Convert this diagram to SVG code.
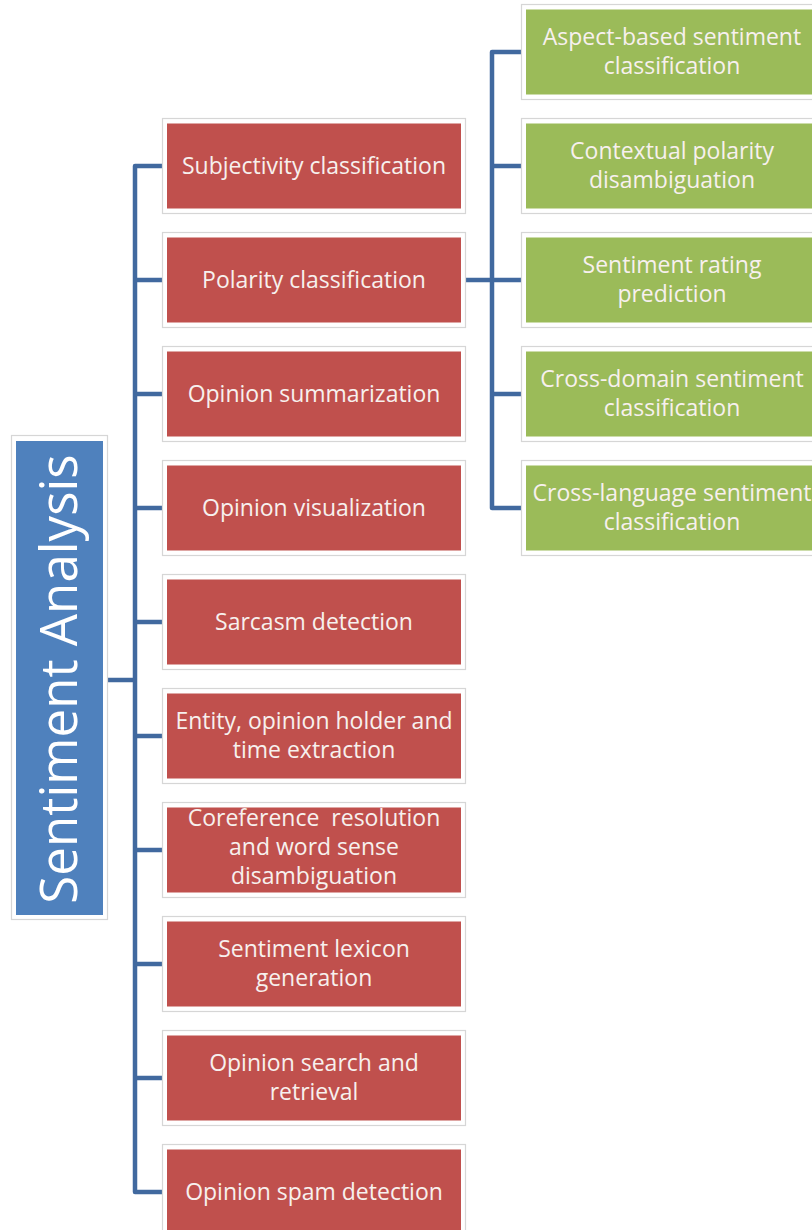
<svg xmlns="http://www.w3.org/2000/svg" width="812" height="1230" viewBox="0 0 812 1230">
<style>
.frame{fill:#ffffff;stroke:#d6d6d6;stroke-width:1.2}
.red{fill:#c0504d}
.green{fill:#9bbb59}
.blue{fill:#4f81bd}
.t{font-family:"Open Sans","DejaVu Sans",sans-serif;font-size:23px;fill:#f7f0ee;text-anchor:middle}
.title{font-family:"Open Sans","DejaVu Sans",sans-serif;font-size:51px;fill:#ffffff;text-anchor:middle}
.ln{fill:none;stroke:#41699f;stroke-width:4.5;stroke-linejoin:round;stroke-linecap:butt}
</style>
<rect width="812" height="1230" fill="#ffffff"/>
<g id="connectors">
<path class="ln" d="M108,680 H135"/>
<path class="ln" d="M162,166 H135 V1192 H162"/>
<path class="ln" d="M135,280 H162 M135,394 H162 M135,508 H162 M135,622 H162 M135,736 H162 M135,850 H162 M135,964 H162 M135,1078 H162"/>
<path class="ln" d="M465,280 H492"/>
<path class="ln" d="M521,52 H492 V508 H521"/>
<path class="ln" d="M492,166 H521 M492,280 H521 M492,394 H521"/>
</g>
<g id="root">
<rect class="frame" x="11.5" y="435.5" width="96" height="484"/>
<rect class="blue" x="16" y="441" width="87" height="474"/>
<text class="title" transform="translate(77,679) rotate(-90)" x="0" y="0">Sentiment Analysis</text>
</g>
<g id="n1"><rect class="frame" x="162.5" y="118.5" width="303" height="95"/><rect class="red" x="167" y="123.5" width="294" height="85"/><text class="t" x="314" y="174">Subjectivity classification</text></g>
<g id="n2"><rect class="frame" x="162.5" y="232.5" width="303" height="95"/><rect class="red" x="167" y="237.5" width="294" height="85"/><text class="t" x="314" y="288">Polarity classification</text></g>
<g id="n3"><rect class="frame" x="162.5" y="346.5" width="303" height="95"/><rect class="red" x="167" y="351.5" width="294" height="85"/><text class="t" x="314" y="402">Opinion summarization</text></g>
<g id="n4"><rect class="frame" x="162.5" y="460.5" width="303" height="95"/><rect class="red" x="167" y="465.5" width="294" height="85"/><text class="t" x="314" y="516">Opinion visualization</text></g>
<g id="n5"><rect class="frame" x="162.5" y="574.5" width="303" height="95"/><rect class="red" x="167" y="579.5" width="294" height="85"/><text class="t" x="314" y="630">Sarcasm detection</text></g>
<g id="n6"><rect class="frame" x="162.5" y="688.5" width="303" height="95"/><rect class="red" x="167" y="693.5" width="294" height="85"/><text class="t" x="314" y="729">Entity, opinion holder and</text><text class="t" x="314" y="758">time extraction</text></g>
<g id="n7"><rect class="frame" x="162.5" y="802.5" width="303" height="95"/><rect class="red" x="167" y="807.5" width="294" height="85"/><text class="t" x="314" y="826" style="white-space:pre">Coreference  resolution</text><text class="t" x="314" y="855">and word sense</text><text class="t" x="314" y="884">disambiguation</text></g>
<g id="n8"><rect class="frame" x="162.5" y="916.5" width="303" height="95"/><rect class="red" x="167" y="921.5" width="294" height="85"/><text class="t" x="314" y="957">Sentiment lexicon</text><text class="t" x="314" y="986">generation</text></g>
<g id="n9"><rect class="frame" x="162.5" y="1030.5" width="303" height="95"/><rect class="red" x="167" y="1035.5" width="294" height="85"/><text class="t" x="314" y="1071">Opinion search and</text><text class="t" x="314" y="1100">retrieval</text></g>
<g id="n10"><rect class="frame" x="162.5" y="1144.5" width="303" height="95"/><rect class="red" x="167" y="1149.5" width="294" height="85"/><text class="t" x="314" y="1200">Opinion spam detection</text></g>
<g id="g1"><rect class="frame" x="521.5" y="4.5" width="303" height="95"/><rect class="green" x="526" y="9.5" width="294" height="85"/><text class="t" x="672" y="45">Aspect-based sentiment</text><text class="t" x="672" y="74">classification</text></g>
<g id="g2"><rect class="frame" x="521.5" y="118.5" width="303" height="95"/><rect class="green" x="526" y="123.5" width="294" height="85"/><text class="t" x="672" y="159">Contextual polarity</text><text class="t" x="672" y="188">disambiguation</text></g>
<g id="g3"><rect class="frame" x="521.5" y="232.5" width="303" height="95"/><rect class="green" x="526" y="237.5" width="294" height="85"/><text class="t" x="672" y="273">Sentiment rating</text><text class="t" x="672" y="302">prediction</text></g>
<g id="g4"><rect class="frame" x="521.5" y="346.5" width="303" height="95"/><rect class="green" x="526" y="351.5" width="294" height="85"/><text class="t" x="672" y="387">Cross-domain sentiment</text><text class="t" x="672" y="416">classification</text></g>
<g id="g5"><rect class="frame" x="521.5" y="460.5" width="303" height="95"/><rect class="green" x="526" y="465.5" width="294" height="85"/><text class="t" x="672" y="501">Cross-language sentiment</text><text class="t" x="672" y="530">classification</text></g>
</svg>
